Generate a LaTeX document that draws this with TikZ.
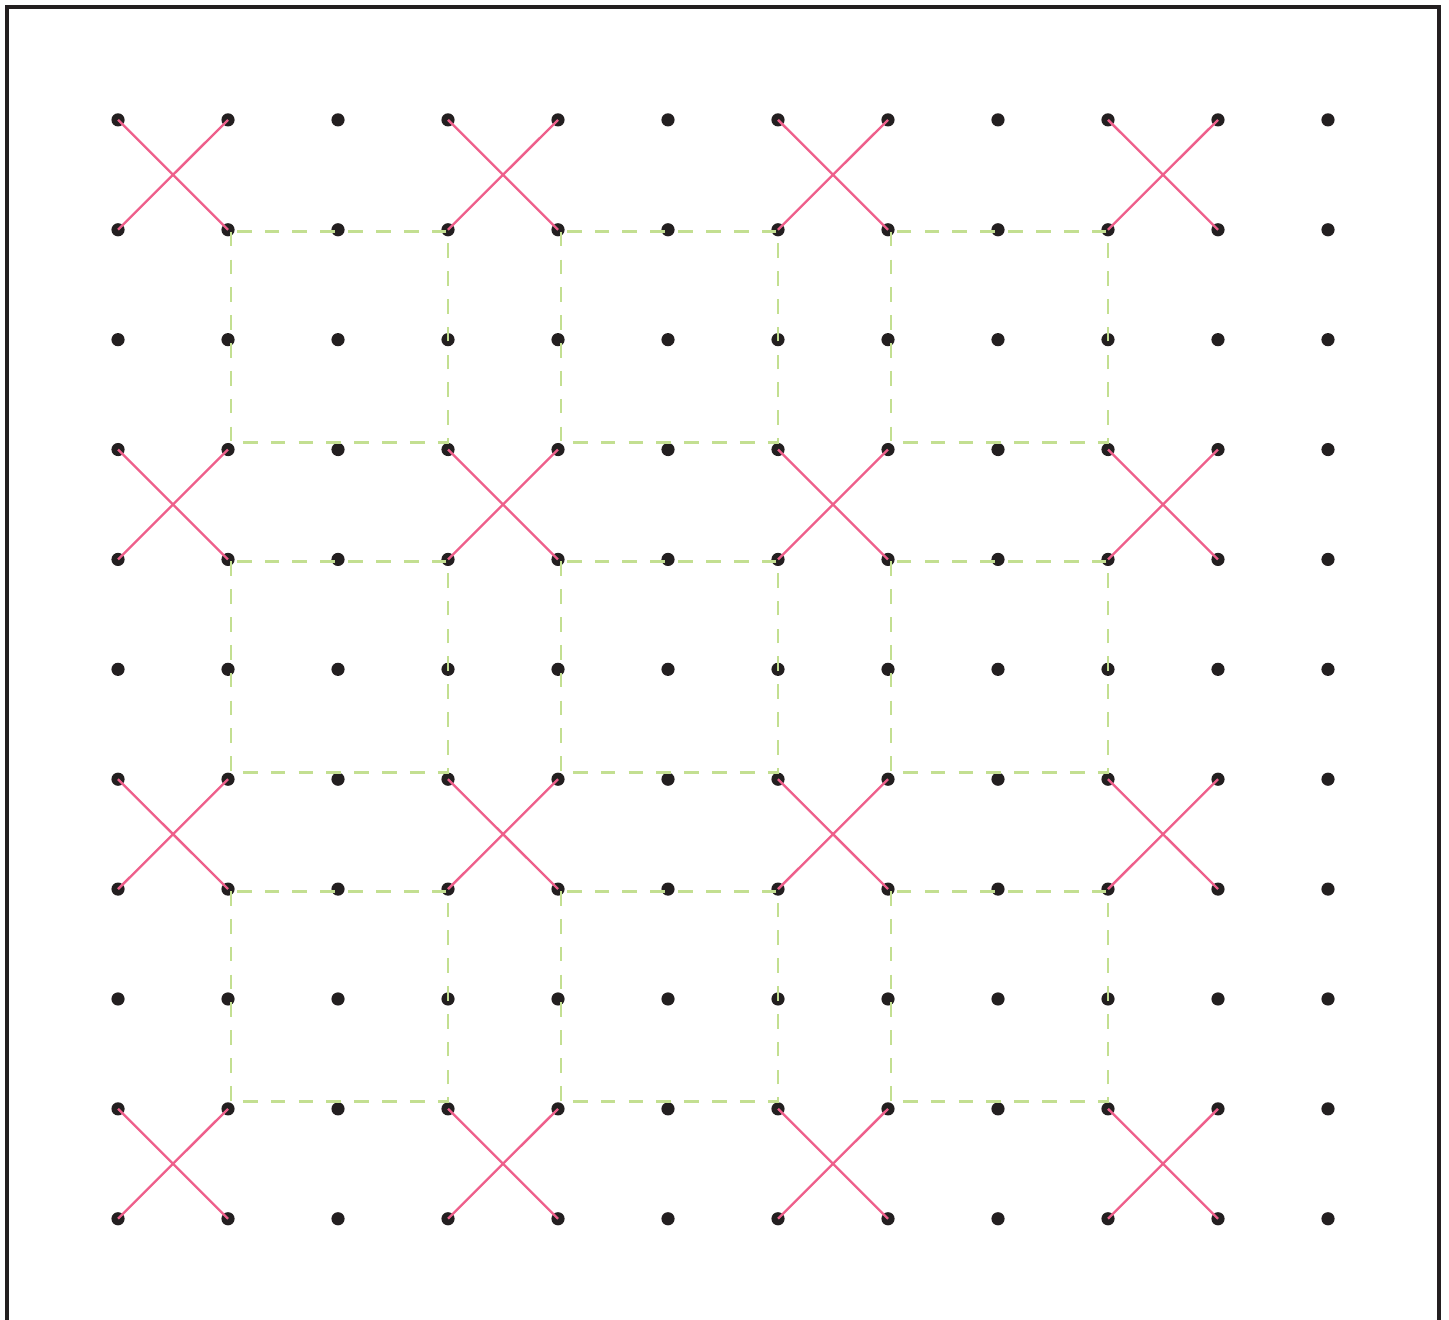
\documentclass[tikz,border=0pt]{standalone}
\usepackage{tikz}
\definecolor{dotblack}{HTML}{231F20}
\definecolor{crosspink}{HTML}{EE5F8B}
\definecolor{guidegreen}{HTML}{C3DF91}
\tikzset{
  dot/.style={circle, fill=dotblack, inner sep=0pt, minimum size=0.12cm},
  cross/.style={draw=crosspink, line width=0.6pt},
  guide/.style={draw=guidegreen, line width=0.75pt, dash pattern=on 3.8pt off 3.4pt},
  frame/.style={draw=dotblack, line width=0.8pt},
}
\begin{document}
\begin{tikzpicture}[x=1cm, y=-0.999cm]
\useasboundingbox (-1.073,-1.091) rectangle (12.1,10.918);
% frame (open at the bottom)
\coordinate (fbl) at (-1.009,11.2);
\coordinate (ftl) at (-1.009,-1.027);
\coordinate (ftr) at (12.009,-1.027);
\coordinate (fbr) at (12.009,11.2);
\draw[frame] (fbl) -- (ftl) -- (ftr) -- (fbr);
% grid of dots
\foreach \col in {0,...,11} {
  \foreach \row in {0,...,10} {
    \node[dot] (d-\col-\row) at (\col,\row) {};
  }
}
% dashed squares
\foreach \col in {1,4,7} {
  \foreach \row in {1,4,7} {
    \pgfmathtruncatemacro{\colB}{\col+2}
    \pgfmathtruncatemacro{\rowB}{\row+2}
    \draw[guide] ([xshift=0.027cm, yshift=-0.018cm]d-\col-\row.center)
      rectangle ([yshift=0.064cm]d-\colB-\rowB.center);
  }
}
% crosses
\foreach \col in {0,3,6,9} {
  \foreach \row in {0,3,6,9} {
    \pgfmathtruncatemacro{\colB}{\col+1}
    \pgfmathtruncatemacro{\rowB}{\row+1}
    \draw[cross] (d-\col-\row.center) -- (d-\colB-\rowB.center);
    \draw[cross] (d-\colB-\row.center) -- (d-\col-\rowB.center);
  }
}
\end{tikzpicture}
\end{document}
